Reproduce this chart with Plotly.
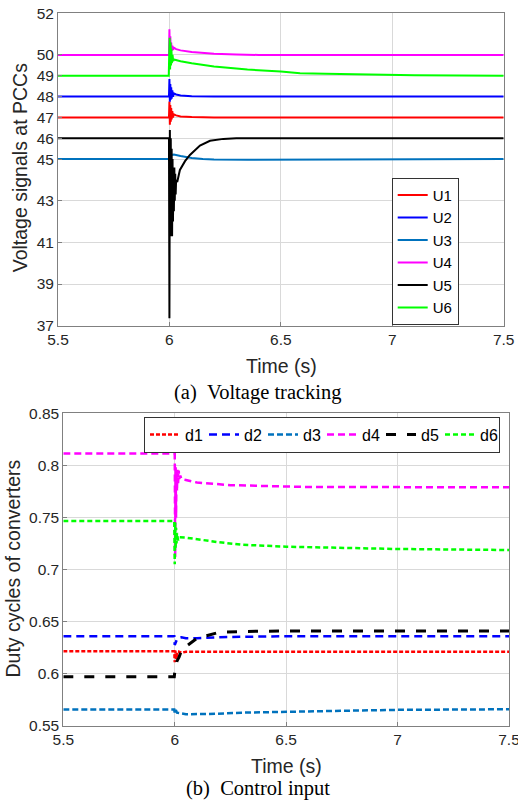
import plotly.graph_objects as go

# ---------------- (a) Voltage tracking ----------------
t_u1 = [5.5, 5.998, 6.0, 6.002, 6.004, 6.006, 6.008, 6.010, 6.013, 6.016, 6.02, 6.03, 6.05, 6.1, 6.2, 7.5]
u1 = [47.0, 47.0, 47.76, 46.65, 47.6, 46.8, 47.45, 46.9, 47.3, 47.0, 47.15, 47.1, 47.05, 47.02, 47.0, 47.0]

t_u2 = [5.5, 5.998, 6.0, 6.002, 6.004, 6.006, 6.008, 6.010, 6.013, 6.016, 6.02, 6.03, 6.05, 6.1, 6.2, 7.5]
u2 = [48.0, 48.0, 48.85, 47.75, 48.6, 47.85, 48.45, 47.9, 48.3, 48.0, 48.15, 48.1, 48.05, 48.02, 48.0, 48.0]

t_u3 = [5.5, 5.998, 6.0, 6.004, 6.01, 6.02, 6.05, 6.1, 6.15, 6.2, 6.35, 6.6, 7.0, 7.5]
u3 = [45.0, 45.0, 44.9, 45.1, 45.2, 45.22, 45.15, 45.05, 45.0, 44.98, 44.97, 44.98, 45.0, 45.0]

t_u4 = [5.5, 5.998, 6.0, 6.002, 6.004, 6.006, 6.008, 6.010, 6.013, 6.016, 6.02, 6.03, 6.05, 6.1, 6.2, 6.3, 6.4, 7.5]
u4 = [50.0, 50.0, 51.23, 50.1, 50.9, 50.15, 50.6, 50.2, 50.45, 50.25, 50.35, 50.28, 50.22, 50.14, 50.06, 50.02, 50.0, 50.0]

t_u5 = [5.5, 5.998, 6.0, 6.002, 6.004, 6.006, 6.008, 6.010, 6.012, 6.014, 6.016, 6.018, 6.020,
        6.022, 6.024, 6.026, 6.028, 6.030, 6.035, 6.047, 6.07, 6.092, 6.137, 6.182, 6.242, 6.3, 6.4, 7.5]
u5 = [46.0, 46.0, 37.36, 46.4, 41.3, 46.0, 41.5, 45.5, 41.3, 45.0, 42.0, 44.6, 42.5,
      44.6, 43.0, 44.3, 43.3, 44.0, 43.9, 44.48, 44.9, 45.2, 45.65, 45.88, 45.97, 46.0, 46.0, 46.0]

t_u6 = [5.5, 5.997, 5.999, 6.001, 6.003, 6.005, 6.007, 6.009, 6.011, 6.014, 6.017, 6.02, 6.05, 6.1,
        6.2, 6.35, 6.5, 6.586, 6.7, 6.9, 7.1, 7.5]
u6 = [49.0, 49.0, 50.0, 50.83, 49.3, 50.6, 49.5, 50.3, 49.6, 50.0, 49.7, 49.78, 49.7, 49.6,
      49.45, 49.3, 49.2, 49.12, 49.1, 49.05, 49.02, 49.0]

# ---------------- (b) Control input ----------------
t_d1 = [5.5, 5.998, 6.0, 6.003, 6.006, 6.01, 6.015, 6.02, 6.03, 6.05, 7.5]
d1 = [0.6215, 0.6215, 0.611, 0.622, 0.614, 0.62, 0.616, 0.621, 0.62, 0.621, 0.621]

t_d2 = [5.5, 5.998, 6.0, 6.005, 6.01, 6.02, 6.03, 6.05, 6.1, 6.2, 6.5, 7.5]
d2 = [0.636, 0.636, 0.6275, 0.631, 0.633, 0.6345, 0.635, 0.634, 0.634, 0.635, 0.636, 0.636]

t_d3 = [5.5, 5.998, 6.0, 6.005, 6.01, 6.05, 6.1, 6.15, 6.3, 6.5, 6.8, 7.0, 7.5]
d3 = [0.5655, 0.5655, 0.562, 0.565, 0.5625, 0.561, 0.5612, 0.5612, 0.5625, 0.5635, 0.5645, 0.5652, 0.5658]

t_d4 = [5.5, 5.998, 6.0, 6.002, 6.004, 6.006, 6.008, 6.01, 6.012, 6.015, 6.018, 6.02, 6.025, 6.03,
        6.05, 6.1, 6.25, 6.5, 6.6, 7.5]
d4 = [0.8115, 0.8115, 0.822, 0.712, 0.80, 0.75, 0.795, 0.775, 0.7975, 0.783, 0.795, 0.787, 0.79, 0.787,
      0.786, 0.7835, 0.781, 0.7795, 0.7792, 0.779]

t_d5 = [5.5, 5.998, 6.0, 6.005, 6.01, 6.02, 6.03, 6.05, 6.1, 6.15, 6.2, 6.3, 6.5, 7.5]
d5 = [0.597, 0.597, 0.601, 0.605, 0.612, 0.616, 0.622, 0.626, 0.634, 0.637, 0.6397, 0.6405, 0.641, 0.641]

t_d6 = [5.5, 5.998, 6.0, 6.002, 6.004, 6.006, 6.008, 6.01, 6.015, 6.02, 6.05, 6.1, 6.2, 6.3, 6.5, 7.0, 7.5]
d6 = [0.7465, 0.7465, 0.705, 0.745, 0.72, 0.74, 0.725, 0.735, 0.728, 0.731, 0.7306, 0.729, 0.7261, 0.7238,
      0.7219, 0.7197, 0.7187]

top_ticks = [37, 39, 41, 43, 45, 46, 47, 48, 49, 50, 52]
bot_ticks = [0.55, 0.6, 0.65, 0.7, 0.75, 0.8, 0.85]
x_ticks = [5.5, 6, 6.5, 7, 7.5]
x_ticktext = ["5.5", "6", "6.5", "7", "7.5"]
bot_ticktext = ["0.55", "0.6", "0.65", "0.7", "0.75", "0.8", "0.85"]

RED, BLUE, STEEL, MAG, BLK, GRN = "#ff0000", "#0000ff", "#0072bd", "#ff00ff", "#000000", "#00ff00"

W, H = 518, 802
def fx(px): return px / W
def fy(py): return 1 - py / H

fig = go.Figure()

top_series = [("U1", t_u1, u1, RED), ("U2", t_u2, u2, BLUE), ("U3", t_u3, u3, STEEL),
              ("U4", t_u4, u4, MAG), ("U5", t_u5, u5, BLK), ("U6", t_u6, u6, GRN)]
for name, t, v, c in top_series:
    fig.add_trace(go.Scatter(x=t, y=v, name=name, mode="lines",
                             line=dict(color=c, width=2), xaxis="x", yaxis="y", legend="legend"))

bot_series = [("d1", t_d1, d1, RED, "4px,2px", 2.5), ("d2", t_d2, d2, BLUE, "8px,5px", 2.5),
              ("d3", t_d3, d3, STEEL, "6px,3px", 2.5), ("d4", t_d4, d4, MAG, "7px,4px", 2.5),
              ("d5", t_d5, d5, BLK, "10px,11px", 3), ("d6", t_d6, d6, GRN, "5px,3px", 2.5)]
for name, t, v, c, dash, w in bot_series:
    fig.add_trace(go.Scatter(x=t, y=v, name=name, mode="lines",
                             line=dict(color=c, width=w, dash=dash), xaxis="x2", yaxis="y2", legend="legend2"))

FONT = "Liberation Sans, Arial, sans-serif"
SERIF = "Liberation Serif, Times New Roman, serif"
axis_common = dict(showgrid=True, gridcolor="#d9d9d9", gridwidth=1, showline=True, linecolor="#808080",
                   linewidth=1, mirror=True, ticks="inside", ticklen=4, tickcolor="#808080",
                   tickfont=dict(family=FONT, size=15.5, color="#262626"), zeroline=False, automargin=False)

fig.update_layout(
    width=W, height=H, margin=dict(l=0, r=0, t=0, b=0),
    paper_bgcolor="white", plot_bgcolor="white",
    xaxis=dict(domain=[fx(58), fx(503.7)], range=[5.5, 7.5], tickvals=x_ticks, ticktext=x_ticktext,
               anchor="y", ticklabeloverflow="allow", **axis_common),
    yaxis=dict(domain=[fy(325.7), fy(13.3)], range=[37, 52], tickvals=top_ticks, anchor="x", **axis_common),
    xaxis2=dict(domain=[fx(63.3), fx(509)], range=[5.5, 7.5], tickvals=x_ticks, ticktext=x_ticktext,
                anchor="y2", ticklabeloverflow="allow", **axis_common),
    yaxis2=dict(domain=[fy(725.7), fy(413.3)], range=[0.55, 0.85], tickvals=bot_ticks, ticktext=bot_ticktext,
                anchor="x2", **axis_common),
    legend=dict(x=fx(391.7), y=fy(177.7), xanchor="left", yanchor="top", bgcolor="white",
                bordercolor="#333333", borderwidth=1, font=dict(family=FONT, size=15, color="black"),
                tracegroupgap=0),
    legend2=dict(orientation="h", x=fx(500), y=fy(416.7), xanchor="right", yanchor="top", bgcolor="white",
                 bordercolor="#333333", borderwidth=1, entrywidth=14,
                 font=dict(family=FONT, size=16, color="black")),
    showlegend=True,
)

ann = [
    dict(text="Voltage signals at PCCs", x=fx(20), y=fy(168.3), textangle=-90, font=dict(family=FONT, size=19.5, color="#262626")),
    dict(text="Time (s)", x=fx(281), y=fy(365.7), font=dict(family=FONT, size=19.5, color="#262626")),
    dict(text="(a)\u2002Voltage tracking", x=fx(258), y=fy(393), font=dict(family=SERIF, size=20.5, color="black")),
    dict(text="Duty cycles of converters", x=fx(12.5), y=fy(569), textangle=-90, font=dict(family=FONT, size=19.5, color="#262626")),
    dict(text="Time (s)", x=fx(286.7), y=fy(765.7), font=dict(family=FONT, size=19.5, color="#262626")),
    dict(text="(b)\u2002Control input", x=fx(258), y=fy(788.5), font=dict(family=SERIF, size=20.5, color="black")),
]
for a in ann:
    fig.add_annotation(xref="paper", yref="paper", showarrow=False, xanchor="center", yanchor="middle", **a)

fig.write_html("out.html", config={"displayModeBar": False},
               post_script="document.body.style.margin='0';document.body.style.overflow='hidden';")
